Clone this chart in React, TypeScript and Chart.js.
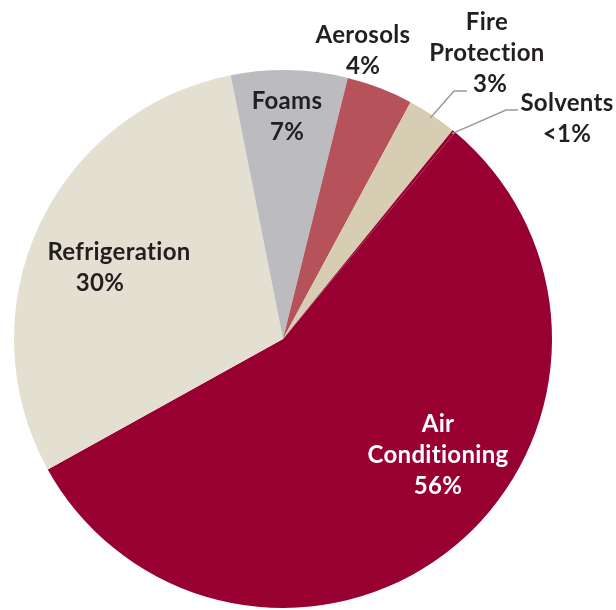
import React, { useEffect, useRef } from "react";
import { Chart, registerables } from "chart.js";

Chart.register(...registerables);

const categories = ["Air Conditioning", "Refrigeration", "Foams", "Aerosols", "Fire Protection", "Solvents"];
const shares = [56, 30, 7, 4, 3, 0.2];
const valueLabels = ["56%", "30%", "7%", "4%", "3%", "<1%"];
const labelLines = [["Air", "Conditioning"], ["Refrigeration"], ["Foams"], ["Aerosols"], ["Fire", "Protection"], ["Solvents"]];
const colors = ["#990032", "#e4e0d1", "#bcbcc0", "#b5525a", "#d6cdb2", "#990032"];

// label anchor offsets from pie centre (px) and text colour
const labelLayout = [
  { dx: 155, dy: 85, color: "#ffffff", pctDx: 0 },
  { dx: -164, dy: -87, color: "#231f20", pctDx: -19 },
  { dx: 4, dy: -238, color: "#231f20", pctDx: 0 },
  { dx: 80, dy: -304, color: "#231f20", pctDx: 0 },
  { dx: 204, dy: -317, color: "#231f20", pctDx: 3 },
  { dx: 284, dy: -236, color: "#231f20", pctDx: 0 },
];
// leader lines: [elbow dx, elbow dy, end dx, end dy] relative to pie centre
const leaders: Record<number, number[]> = {
  4: [171, -248, 184, -248],
  5: [223, -229, 235, -229],
};

const FONT = "bold 24px Lato, 'DejaVu Sans', sans-serif";
const LINE = 31;

const labelPlugin = {
  id: "sliceLabels",
  afterDatasetsDraw(chart: any) {
    const ctx = chart.ctx;
    const meta = chart.getDatasetMeta(0);
    const arc0 = meta.data[0];
    const cx = arc0.x;
    const cy = arc0.y;
    ctx.save();
    ctx.strokeStyle = "#9a9a9a";
    ctx.lineWidth = 1.5;
    Object.keys(leaders).forEach((k) => {
      const i = Number(k);
      const arc = meta.data[i];
      const mid = (arc.startAngle + arc.endAngle) / 2;
      const r = arc.outerRadius;
      const [ex, ey, hx, hy] = leaders[i];
      ctx.beginPath();
      ctx.moveTo(cx + Math.cos(mid) * (r - 3), cy + Math.sin(mid) * (r - 3));
      ctx.lineTo(cx + ex, cy + ey);
      ctx.lineTo(cx + hx, cy + hy);
      ctx.stroke();
    });
    ctx.font = FONT;
    try { (ctx as any).letterSpacing = "0.3px"; } catch (e) {}
    ctx.textAlign = "center";
    ctx.textBaseline = "middle";
    categories.forEach((_, i) => {
      const lay = labelLayout[i];
      const lines = labelLines[i];
      const x = cx + lay.dx;
      let y = cy + lay.dy;
      ctx.fillStyle = lay.color;
      lines.forEach((t) => {
        ctx.fillText(t, x, y);
        y += LINE;
      });
      ctx.fillText(valueLabels[i], x + lay.pctDx, y);
    });
    ctx.restore();
  },
};

export default function App() {
  const ref = useRef<HTMLCanvasElement | null>(null);
  useEffect(() => {
    if (!ref.current) return;
    const chart = new Chart(ref.current, {
      type: "pie",
      data: {
        labels: categories,
        datasets: [
          {
            data: shares,
            backgroundColor: colors,
            borderWidth: 0,
          },
        ],
      },
      options: {
        responsive: false,
        animation: false,
        rotation: 39.8,
        layout: { padding: { left: 14, right: 64, top: 70, bottom: 2 } },
        plugins: {
          legend: { display: false },
          tooltip: { enabled: false },
        },
      },
      plugins: [labelPlugin],
    });
    return () => chart.destroy();
  }, []);
  return (
    <div style={{ position: "fixed", left: 0, top: 0, width: 616, height: 610, background: "#fff" }}>
      <canvas ref={ref} width={616} height={610} style={{ display: "block" }} />
    </div>
  );
}
